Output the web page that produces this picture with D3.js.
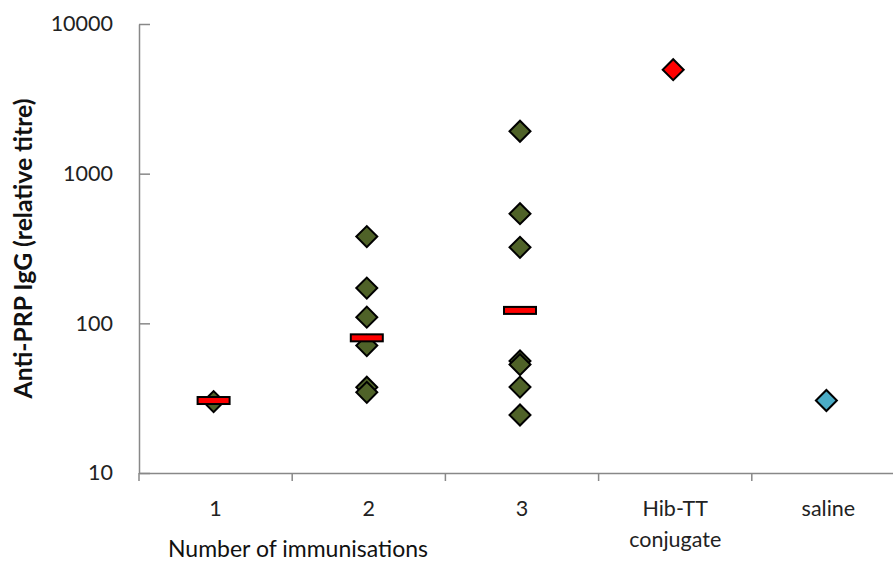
<!DOCTYPE html>
<html>
<head>
<meta charset="utf-8">
<script src="https://cdn.jsdelivr.net/npm/d3@7"></script>
<style>
  html, body { margin: 0; padding: 0; background: #fff; }
  svg { display: block; }
</style>
</head>
<body>
<svg id="chart" width="893" height="566"></svg>
<script>
// ---- data ----
const categories = ["1", "2", "3", "Hib-TT conjugate", "saline"];
const categoryLabels = [["1"], ["2"], ["3"], ["Hib-TT", "conjugate"], ["saline"]];
const group1Values = [30];
const group2Values = [380, 172, 110, 71, 37.4, 34.6];
const group3Values = [1920, 540, 322, 56, 53, 37.5, 24.4];
const hibValues = [4950];
const salineValues = [30.5];
const medianValues = [30.5, 80, 122];
const medianCategories = ["1", "2", "3"];
const yTicks = [10, 100, 1000, 10000];
const yTitle = "Anti-PRP IgG (relative titre)";
const xTitle = "Number of immunisations";

const seriesColors = { "1": "#4F6228", "2": "#4F6228", "3": "#4F6228", "Hib-TT conjugate": "#FF0000", "saline": "#4BACC6" };
const seriesValues = { "1": group1Values, "2": group2Values, "3": group3Values, "Hib-TT conjugate": hibValues, "saline": salineValues };

// ---- layout ----
const svg = d3.select("#chart");
const mLeft = 139, mTop = 24, mBottom = 473, mRight = 905;
const font = "Lato, 'Open Sans', sans-serif";

const x = d3.scaleBand().domain(categories).range([mLeft, mRight]).padding(0);
const y = d3.scaleLog().domain([10, 10000]).range([mBottom, mTop]);

const axisColor = "#888888";

// y axis
const yAxis = svg.append("g").attr("transform", `translate(${mLeft},0)`)
  .call(d3.axisLeft(y).tickValues(yTicks).tickFormat(d3.format("d")).tickSizeInner(-11).tickSizeOuter(0).tickPadding(26));
yAxis.select(".domain").attr("stroke", axisColor).attr("stroke-width", 1.5);
yAxis.selectAll(".tick line").attr("stroke", axisColor).attr("stroke-width", 1.5);
yAxis.selectAll(".tick text").attr("font-family", font).attr("font-size", 21.5).attr("fill", "#222");

// x axis
const xAxis = svg.append("g").attr("transform", `translate(0,${mBottom})`)
  .call(d3.axisBottom(x).tickSize(0).tickFormat(""));
xAxis.select(".domain").attr("stroke", axisColor).attr("stroke-width", 1.5);
// boundary ticks
const boundaries = categories.map(c => x(c)).concat([x(categories[categories.length - 1]) + x.bandwidth()]);
xAxis.selectAll(".bnd").data(boundaries).enter().append("line")
  .attr("x1", d => d).attr("x2", d => d).attr("y1", 0).attr("y2", 8)
  .attr("stroke", axisColor).attr("stroke-width", 1.5);
// labels
const lbl = xAxis.selectAll(".lbl").data(categories).enter().append("text")
  .attr("x", d => x(d) + x.bandwidth() / 2)
  .attr("text-anchor", "middle")
  .attr("font-family", font).attr("font-size", 21.5).attr("fill", "#222");
lbl.each(function(d, i) {
  const t = d3.select(this);
  categoryLabels[i].forEach((s, j) => {
    t.append("tspan").attr("x", x(d) + x.bandwidth() / 2).attr("y", 43 + j * 31).text(s);
  });
});

// axis titles
const yt = svg.append("text")
  .attr("text-anchor", "middle")
  .attr("font-family", font).attr("font-weight", "bold").attr("font-size", 24).attr("fill", "#111")
  .text(yTitle);
const ytLen = yt.node().getComputedTextLength();
yt.attr("transform", `translate(32,${(mTop + mBottom) / 2}) rotate(-90) scale(${300 / ytLen},1)`);

svg.append("text")
  .attr("x", 298).attr("y", 557)
  .attr("text-anchor", "middle")
  .attr("font-family", font).attr("font-size", 23).attr("fill", "#111")
  .text(xTitle);

// points
const diamond = d3.symbol().type(d3.symbolSquare).size(220);
const pts = [];
categories.forEach(c => seriesValues[c].forEach(v => pts.push({ c, v })));
svg.append("g").selectAll("path").data(pts).enter().append("path")
  .attr("d", diamond)
  .attr("transform", d => `translate(${x(d.c) + x.bandwidth() / 2 - 2},${y(d.v)}) rotate(45)`)
  .attr("fill", d => seriesColors[d.c])
  .attr("stroke", "#000").attr("stroke-width", 2);

// medians
svg.append("g").selectAll("rect").data(medianValues).enter().append("rect")
  .attr("x", (d, i) => x(medianCategories[i]) + x.bandwidth() / 2 - 2 - 16)
  .attr("y", d => y(d) - 3.5)
  .attr("width", 32).attr("height", 7)
  .attr("fill", "#FF0000").attr("stroke", "#000").attr("stroke-width", 2);
</script>
</body>
</html>
